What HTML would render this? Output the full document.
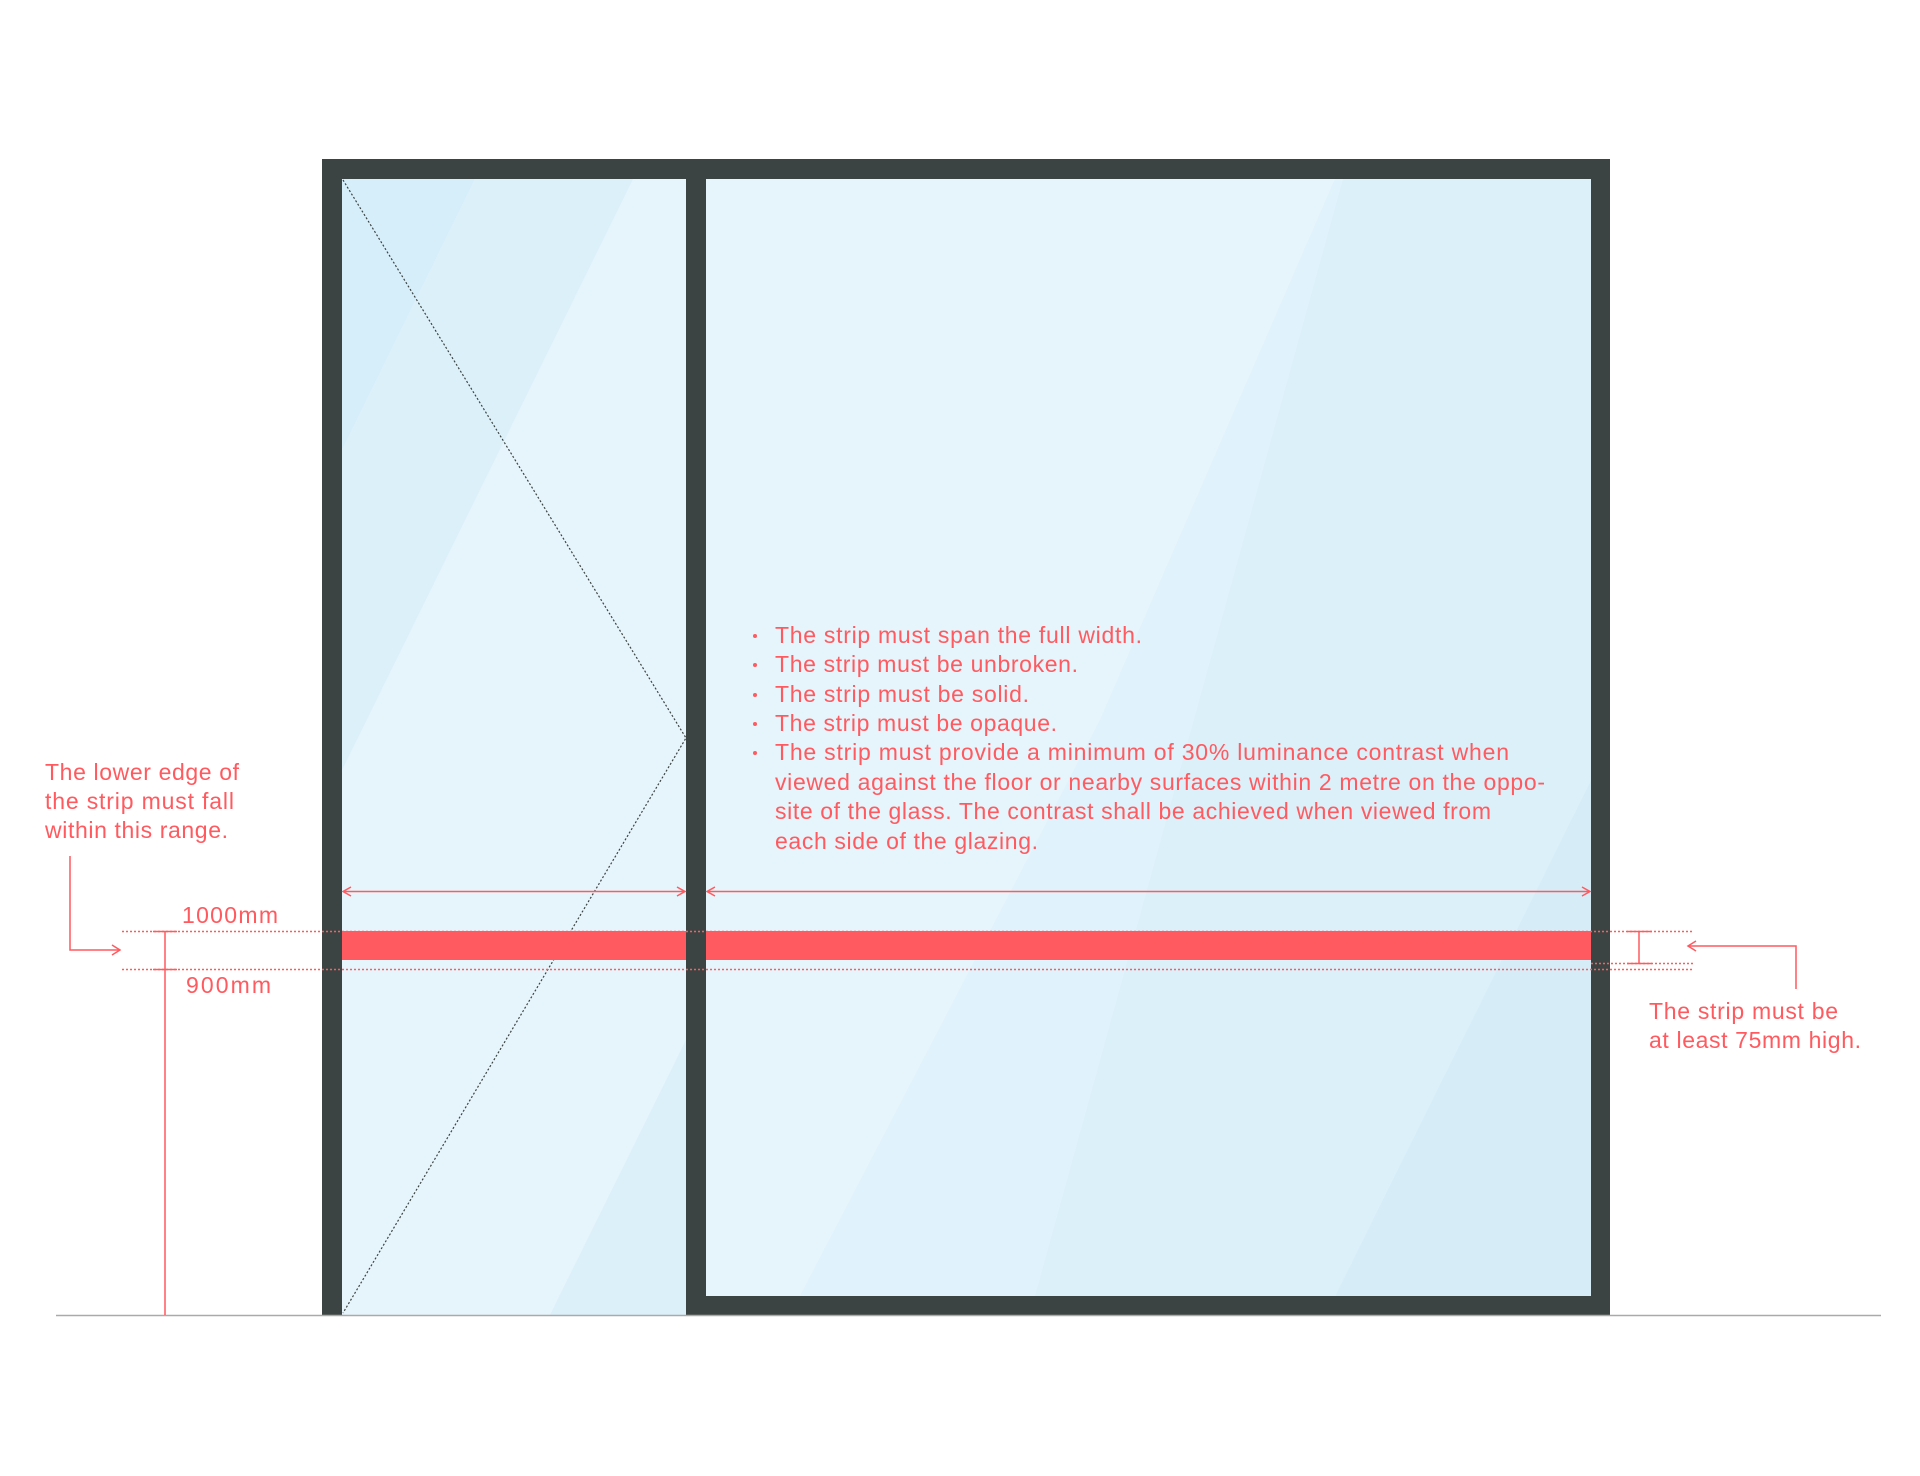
<!DOCTYPE html>
<html><head><meta charset="utf-8"><style>
html,body{margin:0;padding:0;background:#fff;}
svg{display:block;}
text{font-family:"Liberation Sans",sans-serif;font-size:23px;fill:#ff5a5f;}
</style></head><body>
<svg width="1920" height="1476" viewBox="0 0 1920 1476" xmlns="http://www.w3.org/2000/svg">
<rect width="1920" height="1476" fill="#fff"/>
<rect x="342" y="179" width="344" height="1136" fill="#e6f4fb"/>
<polygon points="342,179 475,179 342,450" fill="#d6eef9"/>
<polygon points="475,179 633,179 342,770 342,450" fill="#dcf0fa"/>
<polygon points="686,1040 686,1315 550,1315" fill="#dcf0fa"/>
<rect x="706" y="179" width="885" height="1117" fill="#e6f4fb"/>
<polygon points="1343,179 1591,179 1591,780 1335,1296 1035,1296" fill="#dcf0fa"/>
<polygon points="1591,780 1591,1296 1335,1296" fill="#d6edf8"/>
<polygon points="1100,720 1335,179 1343,179 1035,1296 800,1296" fill="#e0f2fb"/>
<polyline points="343,180 686,738 343,1313" fill="none" stroke="#3c4443" stroke-width="1.2" stroke-dasharray="2,2"/>
<rect x="342" y="931" width="344" height="29" fill="#ff5a5f"/>
<rect x="706" y="931" width="885" height="29" fill="#ff5a5f"/>
<g fill="#3c4443">
<rect x="322" y="159" width="1288" height="20"/>
<rect x="322" y="159" width="20" height="1156"/>
<rect x="686" y="159" width="20" height="1156"/>
<rect x="1591" y="159" width="19" height="1156"/>
<rect x="686" y="1296" width="924" height="19"/>
</g>
<line x1="56" y1="1315.5" x2="1881" y2="1315.5" stroke="#aaa" stroke-width="1.5"/>
<g stroke="#ff5a5f" stroke-width="1.5" stroke-dasharray="2,2" fill="none">
<line x1="122" y1="931.5" x2="1693" y2="931.5"/>
<line x1="122" y1="969.5" x2="1693" y2="969.5"/>
<line x1="1591" y1="963.5" x2="1693" y2="963.5"/>
</g>
<g stroke="#ff5a5f" stroke-width="1.5" fill="none">
<line x1="165" y1="931" x2="165" y2="1315"/>
<line x1="153" y1="931.5" x2="177" y2="931.5"/>
<line x1="153" y1="969.5" x2="177" y2="969.5"/>
<line x1="1639" y1="931" x2="1639" y2="963"/>
<line x1="1627" y1="931.5" x2="1652" y2="931.5"/>
<line x1="1627" y1="963.5" x2="1652" y2="963.5"/>
<polyline points="70,856 70,950 120,950"/>
<polyline points="112,945 120,950 112,955"/>
<polyline points="1796,989 1796,946 1688,946"/>
<polyline points="1696,941 1688,946 1696,951"/>
<line x1="343" y1="891.5" x2="685" y2="891.5"/>
<polyline points="351,887 343,891.5 351,896"/>
<polyline points="677,887 685,891.5 677,896"/>
<line x1="707" y1="891.5" x2="1590" y2="891.5"/>
<polyline points="715,887 707,891.5 715,896"/>
<polyline points="1582,887 1590,891.5 1582,896"/>
</g>
<text x="45" y="780" textLength="194">The lower edge of</text>
<text x="45" y="809" textLength="189">the strip must fall</text>
<text x="45" y="838" textLength="183">within this range.</text>
<text x="182" y="923" textLength="96">1000mm</text>
<text x="186" y="993" textLength="85">900mm</text>
<text x="1649" y="1019" textLength="189">The strip must be</text>
<text x="1649" y="1048" textLength="212">at least 75mm high.</text>
<g>
<circle cx="755" cy="636" r="2" fill="#ff5a5f"/>
<circle cx="755" cy="665" r="2" fill="#ff5a5f"/>
<circle cx="755" cy="695" r="2" fill="#ff5a5f"/>
<circle cx="755" cy="724" r="2" fill="#ff5a5f"/>
<circle cx="755" cy="753" r="2" fill="#ff5a5f"/>
<text x="775" y="643" textLength="367">The strip must span the full width.</text>
<text x="775" y="672" textLength="303">The strip must be unbroken.</text>
<text x="775" y="702" textLength="254">The strip must be solid.</text>
<text x="775" y="731" textLength="282">The strip must be opaque.</text>
<text x="775" y="760" textLength="734">The strip must provide a minimum of 30% luminance contrast when</text>
<text x="775" y="790" textLength="770">viewed against the floor or nearby surfaces within 2 metre on the oppo-</text>
<text x="775" y="819" textLength="716">site of the glass. The contrast shall be achieved when viewed from</text>
<text x="775" y="849" textLength="263">each side of the glazing.</text>
</g>
</svg>
</body></html>
